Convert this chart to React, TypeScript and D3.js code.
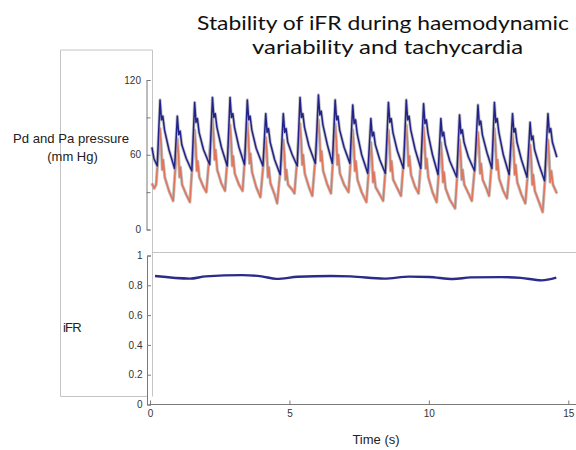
import React, { useEffect, useRef } from 'react';
import * as d3 from 'd3';

// pressure traces: [time (s), mm Hg]
const bluePressure: [number, number][] = [
  [0.07, 66], [0.14, 57], [0.26, 51],
  [0.36, 104], [0.41, 88], [0.46, 91], [0.52, 80], [0.68, 64], [0.88, 49],
  [0.98, 91], [1.03, 76], [1.08, 79], [1.14, 68], [1.30, 57], [1.50, 47],
  [1.60, 102], [1.65, 86], [1.70, 89], [1.76, 78], [1.92, 64], [2.14, 52],
  [2.24, 106], [2.29, 90], [2.34, 93], [2.40, 82], [2.56, 66], [2.77, 51],
  [2.87, 106], [2.92, 90], [2.97, 93], [3.03, 82], [3.19, 66], [3.39, 52],
  [3.49, 104], [3.54, 88], [3.59, 91], [3.65, 80], [3.81, 65], [4.05, 51],
  [4.15, 93], [4.20, 78], [4.25, 81], [4.31, 70], [4.47, 56], [4.67, 44],
  [4.78, 93], [4.83, 78], [4.88, 81], [4.94, 70], [5.10, 60], [5.28, 51],
  [5.38, 106], [5.43, 90], [5.48, 93], [5.54, 82], [5.70, 67], [5.93, 53],
  [6.04, 108], [6.09, 92], [6.14, 95], [6.20, 84], [6.36, 68], [6.54, 53],
  [6.64, 104], [6.69, 88], [6.74, 91], [6.80, 80], [6.96, 66], [7.17, 53],
  [7.27, 100], [7.32, 85], [7.37, 88], [7.43, 77], [7.59, 60], [7.81, 45],
  [7.92, 89], [7.97, 75], [8.02, 78], [8.08, 68], [8.24, 56], [8.44, 45],
  [8.55, 102], [8.60, 86], [8.65, 89], [8.71, 78], [8.87, 63], [9.09, 49],
  [9.19, 104], [9.24, 88], [9.29, 91], [9.35, 80], [9.51, 64], [9.71, 49],
  [9.81, 101], [9.86, 85], [9.91, 88], [9.97, 77], [10.13, 60], [10.33, 44],
  [10.43, 89], [10.48, 75], [10.53, 78], [10.59, 68], [10.75, 55], [11.00, 42],
  [11.10, 92], [11.15, 77], [11.20, 80], [11.26, 70], [11.42, 58], [11.64, 47],
  [11.76, 100], [11.81, 84], [11.86, 87], [11.92, 76], [12.08, 62], [12.26, 49],
  [12.35, 102], [12.40, 86], [12.45, 89], [12.51, 78], [12.67, 60], [12.88, 44],
  [13.00, 93], [13.05, 78], [13.10, 81], [13.16, 70], [13.32, 56], [13.52, 42],
  [13.63, 86], [13.68, 72], [13.73, 75], [13.79, 64], [13.95, 52], [14.15, 39],
  [14.27, 93], [14.32, 78], [14.37, 81], [14.43, 70], [14.59, 58],
];

const redPressure: [number, number][] = [
  [0.07, 37], [0.15, 33], [0.22, 36],
  [0.36, 81], [0.40, 68], [0.44, 48], [0.47, 56], [0.53, 42], [0.68, 31], [0.83, 23],
  [0.98, 73], [1.02, 61], [1.06, 42], [1.09, 50], [1.15, 36], [1.30, 28], [1.43, 22],
  [1.60, 80], [1.64, 67], [1.68, 47], [1.71, 55], [1.77, 42], [1.92, 34], [2.02, 30],
  [2.24, 89], [2.28, 76], [2.32, 56], [2.35, 64], [2.41, 48], [2.56, 37], [2.69, 31],
  [2.87, 84], [2.91, 71], [2.95, 51], [2.98, 59], [3.04, 45], [3.19, 36], [3.32, 31],
  [3.49, 86], [3.53, 73], [3.57, 53], [3.60, 61], [3.66, 46], [3.81, 34], [3.96, 26],
  [4.15, 74], [4.19, 62], [4.23, 42], [4.26, 50], [4.32, 37], [4.47, 28], [4.56, 21],
  [4.78, 72], [4.82, 60], [4.86, 40], [4.89, 48], [4.95, 36], [5.10, 32], [5.18, 29],
  [5.38, 85], [5.42, 72], [5.46, 52], [5.49, 60], [5.55, 45], [5.70, 34], [5.82, 27],
  [6.04, 88], [6.08, 75], [6.12, 55], [6.15, 63], [6.21, 47], [6.36, 36], [6.49, 29],
  [6.64, 85], [6.68, 72], [6.72, 52], [6.75, 60], [6.81, 45], [6.96, 36], [7.12, 30],
  [7.27, 80], [7.31, 67], [7.35, 47], [7.38, 55], [7.44, 40], [7.59, 30], [7.76, 22],
  [7.92, 70], [7.96, 58], [8.00, 38], [8.03, 46], [8.09, 34], [8.24, 28], [8.36, 23],
  [8.55, 80], [8.59, 67], [8.63, 47], [8.66, 55], [8.72, 40], [8.87, 33], [9.00, 27],
  [9.19, 84], [9.23, 71], [9.27, 51], [9.30, 59], [9.36, 44], [9.51, 34], [9.63, 29],
  [9.81, 82], [9.85, 69], [9.89, 49], [9.92, 57], [9.98, 42], [10.13, 30], [10.28, 22],
  [10.43, 70], [10.47, 58], [10.51, 38], [10.54, 46], [10.60, 33], [10.75, 24], [10.94, 17],
  [11.10, 72], [11.14, 60], [11.18, 40], [11.21, 48], [11.27, 36], [11.42, 29], [11.54, 23],
  [11.76, 78], [11.80, 65], [11.84, 45], [11.87, 53], [11.93, 40], [12.08, 32], [12.16, 27],
  [12.35, 81], [12.39, 68], [12.43, 48], [12.46, 56], [12.52, 41], [12.67, 31], [12.80, 25],
  [13.00, 76], [13.04, 64], [13.08, 44], [13.11, 52], [13.17, 38], [13.32, 28], [13.46, 21],
  [13.63, 68], [13.67, 56], [13.71, 36], [13.74, 44], [13.80, 31], [13.95, 22], [14.08, 14],
  [14.27, 72], [14.31, 60], [14.35, 38], [14.39, 47], [14.45, 36], [14.59, 29],
];

const ifrTrace: [number, number][] = [
  [0.18, 0.862], [1.43, 0.845], [2.0, 0.86], [3.3, 0.868], [4.0, 0.86], [4.54, 0.843],
  [5.3, 0.857], [6.5, 0.862], [7.2, 0.86], [8.4, 0.845], [9.3, 0.858], [10.0, 0.856],
  [10.87, 0.842], [11.5, 0.853], [12.6, 0.855], [13.3, 0.85], [14.04, 0.833], [14.57, 0.851],
];

const pressureTicks = [0, 30, 60, 90, 120];
const pressureLabels = [0, 60, 120];
const ifrTicks = [0, 0.2, 0.4, 0.6, 0.8, 1];
const timeTicks = [0, 5, 10, 15];
const titleLines = ['Stability of iFR during haemodynamic', 'variability and tachycardia'];

const W = 576;
const H = 450;

function Chart() {
  const ref = useRef<SVGSVGElement>(null);

  useEffect(() => {
    const svg = d3.select(ref.current);
    svg.selectAll('*').remove();

    const x = d3.scaleLinear().domain([0, 15]).range([150, 568.3]);
    const yTop = d3.scaleLinear().domain([0, 120]).range([229.5, 80]);
    const yBot = d3.scaleLinear().domain([0, 1]).range([404.5, 255.5]);

    const frame = '#c4c4c4';
    // grey frame around the label area
    svg.append('path')
      .attr('d', 'M152.5,50H60.5V396.5H147 M152.5,50V396.5 M152.5,252.5H576')
      .attr('fill', 'none')
      .attr('stroke', frame)
      .attr('stroke-width', 1);

    const styleAxis = (g: any) => {
      g.selectAll('path, line').attr('stroke', '#7a7a7a');
      g.selectAll('text')
        .attr('fill', '#333')
        .attr('font-family', '"Liberation Sans", Arial, sans-serif')
        .attr('font-size', 10);
    };

    svg.append('g')
      .attr('transform', 'translate(146.5,0)')
      .call(d3.axisLeft(yTop).tickValues(pressureTicks)
        .tickSizeInner(-4).tickSizeOuter(-4).tickPadding(5.5)
        .tickFormat((d: any) => (pressureLabels.includes(d) ? String(d) : '')))
      .call(styleAxis);

    svg.append('g')
      .attr('transform', 'translate(147,0)')
      .call(d3.axisLeft(yBot).tickValues(ifrTicks)
        .tickSizeInner(-4).tickSizeOuter(-4).tickPadding(4.5)
        .tickFormat((d: any) => String(d)))
      .call(styleAxis);

    const xg = svg.append('g')
      .attr('transform', 'translate(0,404.5)')
      .call(d3.axisBottom(x).tickValues(timeTicks)
        .tickSizeInner(-4).tickSizeOuter(0).tickPadding(5))
      .call(styleAxis);
    xg.select('.domain').remove();
    xg.append('line')
      .attr('x1', 149.5).attr('x2', W)
      .attr('stroke', '#7a7a7a');

    const pLine = d3.line<[number, number]>()
      .x((d) => x(d[0]))
      .y((d) => yTop(d[1]));

    // grey halo under the traces, then the coloured trace
    [[redPressure, '#e0765c', 1.6], [bluePressure, '#22228a', 1.5]].forEach(([data, color, w]: any) => {
      svg.append('path')
        .attr('d', pLine(data))
        .attr('fill', 'none')
        .attr('stroke', '#b4b4b4')
        .attr('stroke-width', 3.2)
        .attr('stroke-linejoin', 'round')
        .attr('opacity', 0.8);
      svg.append('path')
        .attr('d', pLine(data))
        .attr('fill', 'none')
        .attr('stroke', color)
        .attr('stroke-width', w)
        .attr('stroke-linejoin', 'round');
    });

    const iLine = d3.line<[number, number]>()
      .x((d) => x(d[0]))
      .y((d) => yBot(d[1]))
      .curve(d3.curveMonotoneX);
    svg.append('path')
      .attr('d', iLine(ifrTrace))
      .attr('fill', 'none')
      .attr('stroke', '#2b2b8a')
      .attr('stroke-width', 2.4);

    const labelFont = '"Liberation Sans", Arial, sans-serif';
    svg.append('text')
      .attr('x', 13).attr('y', 142.5)
      .attr('font-family', labelFont).attr('font-size', 13)
      .attr('textLength', 116).attr('lengthAdjust', 'spacingAndGlyphs')
      .attr('fill', '#222')
      .text('Pd and Pa pressure');
    svg.append('text')
      .attr('x', 72.5).attr('y', 160.5)
      .attr('text-anchor', 'middle')
      .attr('font-family', labelFont).attr('font-size', 13)
      .attr('fill', '#222')
      .text('(mm Hg)');
    svg.append('text')
      .attr('x', 63).attr('y', 332)
      .attr('font-family', labelFont).attr('font-size', 13)
      .attr('letter-spacing', -0.8)
      .attr('fill', '#222')
      .text('iFR');
    svg.append('text')
      .attr('x', 376).attr('y', 443.5)
      .attr('text-anchor', 'middle')
      .attr('font-family', labelFont).attr('font-size', 13)
      .attr('fill', '#222')
      .text('Time (s)');

    // title, two lines
    const titleFont = 'Lato, "Open Sans", sans-serif';
    svg.append('text')
      .attr('x', 197).attr('y', 30)
      .attr('font-family', titleFont).attr('font-size', 20)
      .attr('textLength', 372).attr('lengthAdjust', 'spacingAndGlyphs')
      .attr('fill', '#111')
      .text(titleLines[0]);
    svg.append('text')
      .attr('x', 252).attr('y', 54)
      .attr('font-family', titleFont).attr('font-size', 20)
      .attr('textLength', 271).attr('lengthAdjust', 'spacingAndGlyphs')
      .attr('fill', '#111')
      .text(titleLines[1]);
  }, []);

  return (
    <svg ref={ref} width={W} height={H}
      style={{ position: 'absolute', left: 0, top: 0, background: '#fff' }} />
  );
}

export default function App() {
  return <Chart />;
}
